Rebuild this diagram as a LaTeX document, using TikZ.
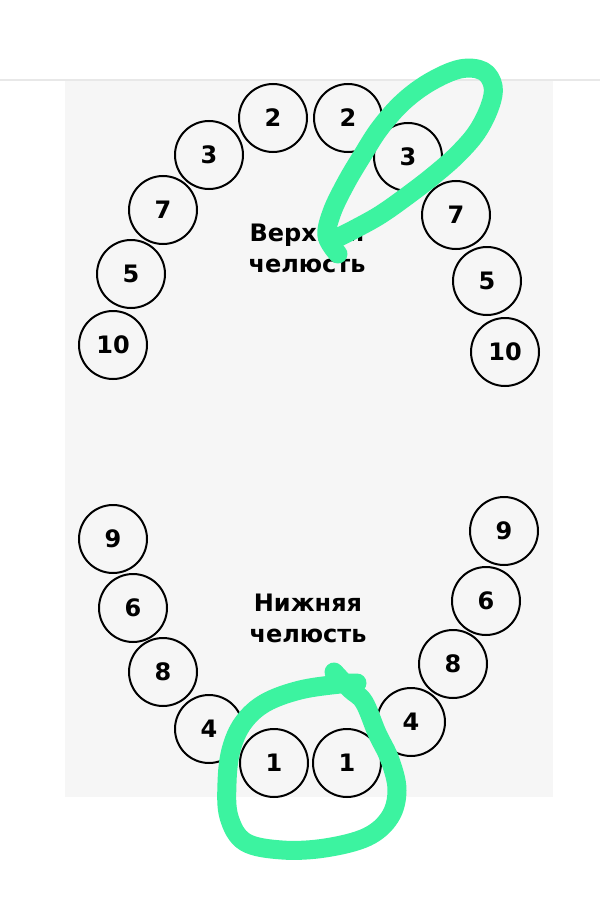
\documentclass[tikz,border=0pt]{standalone}
\usepackage{fontspec}
\setmainfont{DejaVu Sans}
\usepackage{tikz}
\usetikzlibrary{calc}
\definecolor{panelgray}{RGB}{246,246,246}
\definecolor{linegray}{RGB}{232,232,232}
\definecolor{marker}{RGB}{60,243,160}
\newcommand{\drawmarker}{\draw[marker, line width=9.5pt, line cap=round, line join=round]}

\begin{document}
\begin{tikzpicture}[x=0.5pt, y=-0.5pt,
    tooth/.style={circle, draw, line width=1pt, minimum size=34pt, inner sep=0pt,
        font=\bfseries\fontsize{12}{14}\selectfont},
    jaw/.style={align=center, font=\bfseries\fontsize{12}{15.5}\selectfont}]
    \useasboundingbox (0,0) rectangle (600,899);

    % Draw background
    \fill[panelgray] (65,81) rectangle (553,797);
    \draw[linegray, line width=0.75pt] (0,80) -- (600,80);

    % Upper jaw
    \foreach \nm/\x/\y/\t in {u2l/273/118/2, u2r/348/118/2, u3l/209/155/3, u3r/408/157/3,
        u7l/163/210/7, u7r/456/215/7, u5l/131/274/5, u5r/487/281/5,
        u10l/113/345/10, u10r/505/352/10} {
        \node[tooth] (\nm) at (\x,\y) {\t};
    }
    \node[jaw] (upper) at (307,248) {Верхняя\\челюсть};

    % Lower jaw
    \foreach \nm/\x/\y/\t in {l9l/113/539/9, l9r/504/531/9, l6l/133/608/6, l6r/486/601/6,
        l8l/163/672/8, l8r/453/664/8, l4l/209/729/4, l4r/411/722/4,
        l1l/274/763/1, l1r/347/763/1} {
        \node[tooth] (\nm) at (\x,\y) {\t};
    }
    \node[jaw] (lower) at (308,618) {Нижняя\\челюсть};

    % Marker strokes
    \drawmarker plot[smooth, tension=0.6] coordinates {(338,254) (327,236) (332,212)
        (346,183) (362,156) (380,128) (403,102) (430,82) (460,69) (483,71) (493,86)
        (490,106) (477,132) (457,155) (433,176) (407,196) (380,215) (353,230) (333,240)};
    \drawmarker plot[smooth, tension=0.6] coordinates {(334,672) (350,689) (364,702)
        (377,733) (390,760) (397,790) (390,817) (367,837) (325,848) (282,850) (245,842)
        (229,817) (227,783) (231,750) (243,723) (265,703) (300,690) (340,684) (357,683)};
\end{tikzpicture}
\end{document}
